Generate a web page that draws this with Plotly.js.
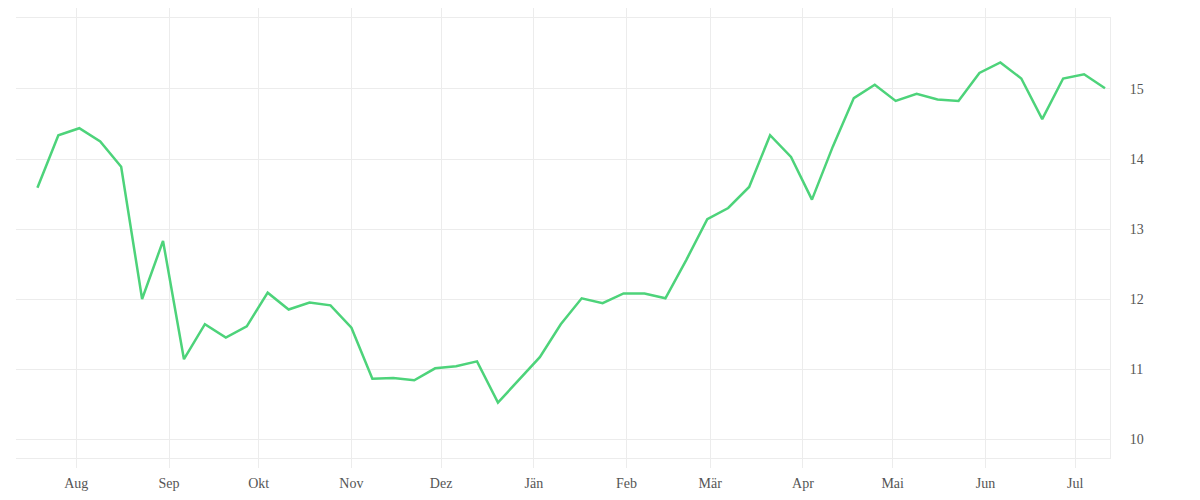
<!DOCTYPE html>
<html>
<head>
<meta charset="utf-8">
<script src="https://cdn.plot.ly/plotly-3.0.1.min.js"></script>
<style>html,body{margin:0;padding:0;background:#fff;}#chart{width:1200px;height:500px;}</style>
</head>
<body>
<div id="chart"></div>
<script>
const startDate = '2022-07-19';
const weeks = 52;
const values = [
  13.59, 14.34, 14.44, 14.25, 13.89, 12.00, 12.83, 11.14, 11.64, 11.45,
  11.61, 12.09, 11.85, 11.95, 11.91, 11.59, 10.86, 10.87, 10.84, 11.01,
  11.04, 11.11, 10.52, 10.85, 11.17, 11.64, 12.01, 11.94, 12.08, 12.08,
  12.01, 12.56, 13.14, 13.30, 13.60, 14.34, 14.03, 13.42, 14.18, 14.87,
  15.06, 14.83, 14.93, 14.85, 14.83, 15.23, 15.38, 15.15, 14.57, 15.15,
  15.21, 15.01
];
const monthTicks = ['2022-08-01','2022-09-01','2022-10-01','2022-11-01','2022-12-01','2023-01-01','2023-02-01','2023-03-01','2023-04-01','2023-05-01','2023-06-01','2023-07-01'];
const monthLabels = ['Aug','Sep','Okt','Nov','Dez','Jän','Feb','Mär','Apr','Mai','Jun','Jul'];
const yTicks = [10, 11, 12, 13, 14, 15];

const dates = [];
const d0 = new Date(startDate + 'T00:00:00Z');
for (let i = 0; i < weeks; i++) {
  const d = new Date(d0.getTime() + i * 7 * 86400000);
  dates.push(d.toISOString().slice(0, 10));
}

const fontFam = '"Liberation Serif", "DejaVu Serif", serif';
const grid = '#ececec';

Plotly.newPlot('chart', [{
  x: dates,
  y: values,
  type: 'scatter',
  mode: 'lines',
  line: {color: '#4dd37a', width: 2.5},
  hoverinfo: 'x+y'
}], {
  width: 1200,
  height: 500,
  margin: {l: 16, r: 90, t: 18, b: 42},
  paper_bgcolor: '#fff',
  plot_bgcolor: '#fff',
  showlegend: false,
  font: {family: fontFam, size: 14, color: '#555'},
  xaxis: {
    type: 'date',
    range: ['2022-07-11 20:00', '2023-07-12 16:00'],
    tickvals: monthTicks,
    ticktext: monthLabels,
    showgrid: true,
    gridcolor: grid,
    gridwidth: 1,
    ticks: 'outside',
    ticklen: 9,
    tickcolor: grid,
    showline: true,
    linecolor: grid,
    mirror: 'allticks',
    zeroline: false,
    ticklabelstandoff: 3,
    tickfont: {family: fontFam, size: 14, color: '#555'}
  },
  yaxis: {
    side: 'right',
    range: [9.729, 16.014],
    tickvals: yTicks,
    showgrid: true,
    gridcolor: grid,
    gridwidth: 1,
    ticks: '',
    showline: true,
    linecolor: grid,
    zeroline: false,
    ticklabelstandoff: 16,
    tickfont: {family: fontFam, size: 14, color: '#555'}
  }
}, {displayModeBar: false, staticPlot: true});
</script>
</body>
</html>
